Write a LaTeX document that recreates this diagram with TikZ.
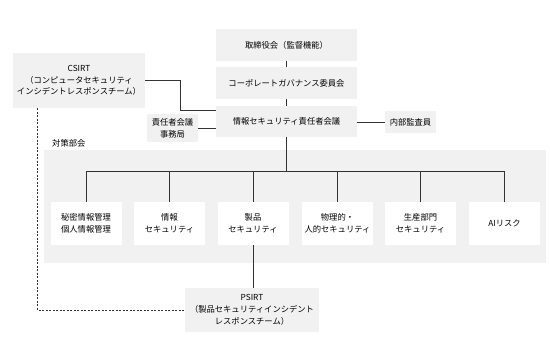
\documentclass[tikz,border=0pt]{standalone}
\usepackage{fontspec}
\setmainfont{Noto Sans CJK JP}
\usetikzlibrary{calc}
\definecolor{boxgray}{HTML}{F1F1F1}
\definecolor{linec}{HTML}{333333}
\tikzset{
  gbox/.style={fill=boxgray, draw=none, inner sep=0pt, align=center, font=\fontsize{8.3}{11.8}\selectfont},
  wbox/.style={fill=white, draw=none, inner sep=0pt, align=center, minimum width=71pt, minimum height=43pt, font=\fontsize{8.3}{11.6}\selectfont},
  conn/.style={draw=linec, line width=0.7pt},
  dconn/.style={draw=linec, line width=0.7pt, dash pattern=on 2pt off 1.5pt},
}
\begin{document}
\begin{tikzpicture}[x=1pt,y=-1pt]
\useasboundingbox (0,0) rectangle (550,351);
% panel
\node[fill=boxgray, inner sep=0pt, minimum width=502pt, minimum height=113pt] (panel) at (295,206.5) {};
\node[anchor=west, inner sep=0pt, font=\fontsize{8.3}{10}\selectfont] (plabel) at (52,143) {対策部会};
% top boxes
\node[gbox, minimum width=141pt, minimum height=32pt] (board) at (286.5,45) {取締役会（監督機能）};
\node[gbox, minimum width=141pt, minimum height=32pt] (cgc) at (286.5,83) {コーポレートガバナンス委員会};
\node[gbox, minimum width=141pt, minimum height=31pt] (sec) at (286.5,121.5) {情報セキュリティ責任者会議};
\node[gbox, minimum width=51pt, minimum height=22pt] (audit) at (410.5,122) {内部監査員};
\node[gbox, minimum width=51pt, minimum height=28pt] (office) at (172.5,128) {責任者会議\\事務局};
\node[gbox, minimum width=132pt, minimum height=55pt] (csirt) at (79,80.5) {CSIRT\\（コンピュータセキュリティ\\インシデントレスポンスチーム）};
% children
\node[wbox] (c1) at (86,223.5) {秘密情報管理\\個人情報管理};
\node[wbox] (c2) at (169.5,223.5) {情報\\セキュリティ};
\node[wbox] (c3) at (253,223.5) {製品\\セキュリティ};
\node[wbox] (c4) at (337.5,223.5) {物理的・\\人的セキュリティ};
\node[wbox] (c5) at (420.5,223.5) {生産部門\\セキュリティ};
\node[wbox] (c6) at (504.5,223.5) {AIリスク};
% PSIRT
\node[gbox, minimum width=134pt, minimum height=44pt] (psirt) at (252,310) {PSIRT\\（製品セキュリティインシデント\\レスポンスチーム）};
% coordinates
\coordinate (bus) at (286.5,171);
\coordinate (j) at (180,110);
\coordinate (dj) at (37.7,310);
% connectors
\draw[conn] (board.south) -- (cgc.north);
\draw[conn] (cgc.south) -- (sec.north);
\draw[conn] (sec.east |- audit.west) -- (audit.west);
\draw[conn] (office.east) -- (office.east -| sec.west);
\draw[conn] (csirt.east) -| (j) -- (j -| sec.west);
\draw[conn] (sec.south) -- (bus);
\draw[conn] (c1.north |- bus) -- (c6.north |- bus);
\foreach \c in {c1,c2,c3,c4,c5,c6} {\draw[conn] (\c.north) -- (\c.north |- bus);}
\draw[conn] (c3.south) -- (c3.south |- psirt.north);
\draw[dconn] (csirt.south -| dj) -- (dj) -- (psirt.west);
\end{tikzpicture}
\end{document}
